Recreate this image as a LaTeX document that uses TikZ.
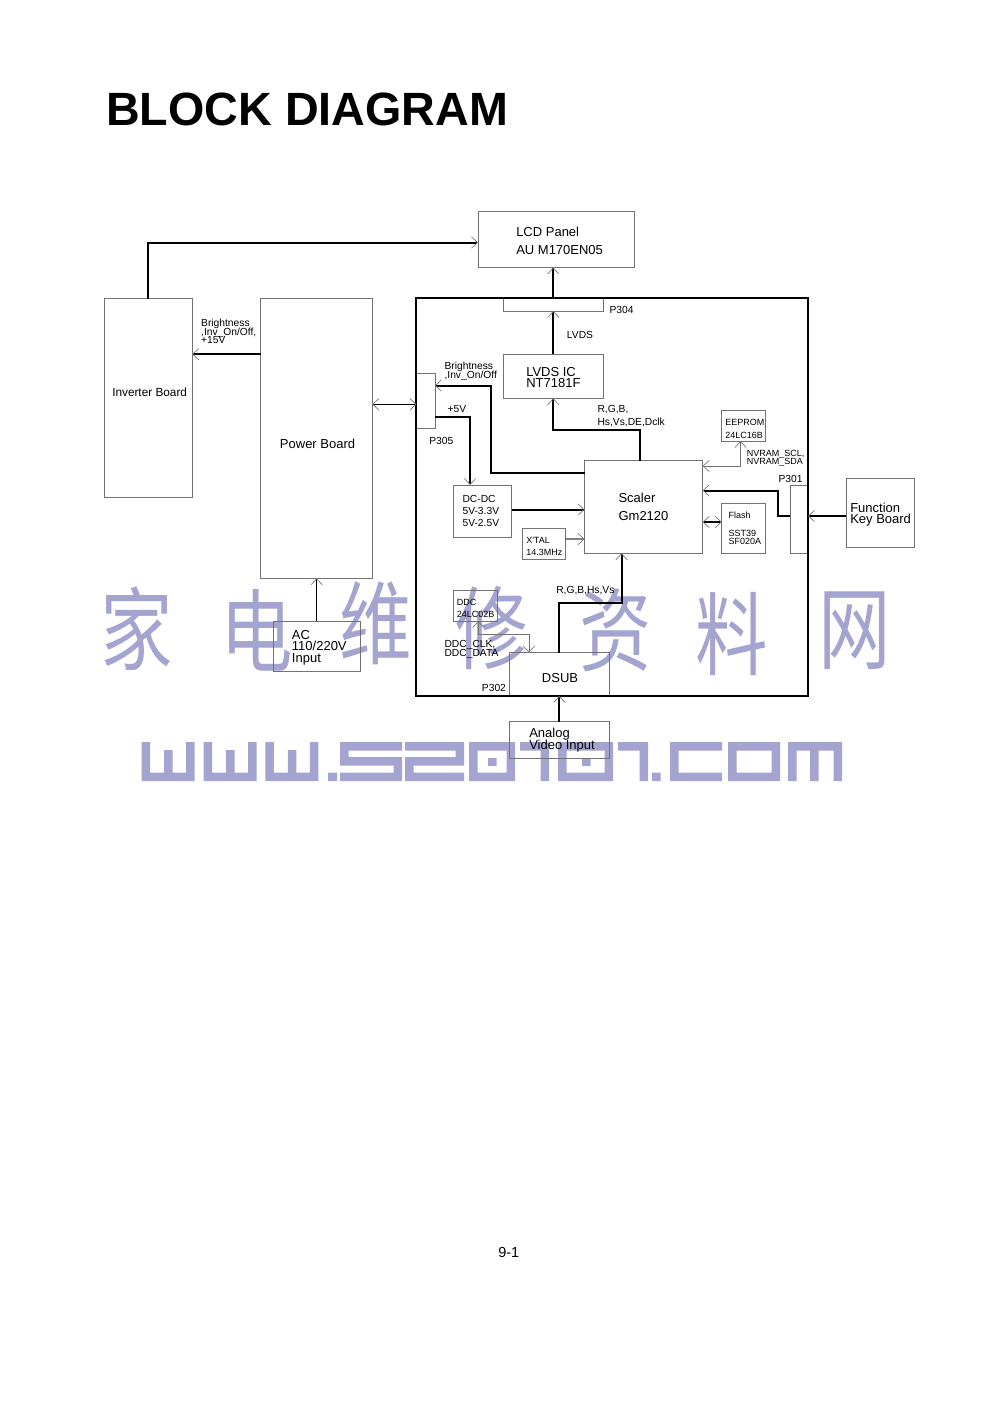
\documentclass[tikz,border=0pt]{standalone}
\usepackage{fontspec}
\setmainfont{Liberation Sans}
\newfontfamily\cjkfont{Noto Sans CJK SC}
\usetikzlibrary{arrows.meta,fit}
\definecolor{boxgray}{RGB}{115,115,115}
\definecolor{wm}{RGB}{164,164,208}
\newcommand\mybox[5]{\node[box, fit={(#2,#3) (#4,#5)}] (#1) {};}
\newcommand\cjch[1]{\scalebox{0.8}[1]{#1}}
\begin{document}
\begin{tikzpicture}[x=0.75pt,y=-0.75pt,
  box/.style={draw=boxgray, line width=0.6pt, inner sep=0pt, outer sep=0pt, rectangle},
  bus/.style={line width=1.5pt, black},
  thinline/.style={line width=0.8pt, black},
  faint/.style={line width=0.7pt, boxgray},
  Ah/.tip={Straight Barb[length=4.5pt,width=8.5pt,line width=0.5pt,color=boxgray]},
  big/.style={font=\fontsize{9.75pt}{11pt}\selectfont, inner sep=0pt, anchor=base west},
  mid/.style={font=\fontsize{7.7pt}{8pt}\selectfont, inner sep=0pt, anchor=base west},
  sml/.style={font=\fontsize{6.75pt}{7pt}\selectfont, inner sep=0pt, anchor=base west},
  cj/.style={text=wm, inner sep=0pt, font=\cjkfont\fontsize{68pt}{68pt}\selectfont},
]
\fill[white] (0,0) rectangle (992,1404);
\useasboundingbox (0,0) rectangle (992,1404);

% ---------- watermark ----------
\node[cj] (wm1) at (137,629) {\cjch{家}};
\node[cj] (wm2) at (257,630) {\cjch{电}};
\node[cj] (wm3) at (376,623) {\cjch{维}};
\node[cj] (wm4) at (492,628) {\cjch{修}};
\node[cj] (wm5) at (616,630) {\cjch{资}};
\node[cj] (wm6) at (732,634) {\cjch{料}};
\node[cj] (wm7) at (855,631) {\cjch{网}};
\foreach \a in {141.7,203.5,265.3}{
  \fill[wm] (\a,742) rectangle ({\a+8.5},781)
            ({\a+44.5},742) rectangle ({\a+53},781)
            ({\a+22.5},750) rectangle ({\a+31},781)
            (\a,772.5) rectangle ({\a+53},781);}
\fill[wm] (328,772.5) rectangle (337,781) (652,772.5) rectangle (660.5,781);
% 5
\fill[wm] (340,742) rectangle (402,750.5) (340,742) rectangle (348.5,765.5)
          (340,757) rectangle (402,765.5) (393.5,757) rectangle (402,781)
          (340,772.5) rectangle (402,781);
% 2
\fill[wm] (405,742) rectangle (464,750.5) (455.5,742) rectangle (464,765.5)
          (405,757) rectangle (464,765.5) (405,757) rectangle (413.5,781)
          (405,772.5) rectangle (464,781);
% 0, 0, o frames
\foreach \a/\b in {469/515,558/613,728/780}{
  \fill[wm] (\a,742) rectangle (\b,750.5) (\a,772.5) rectangle (\b,781)
            (\a,742) rectangle ({\a+8.5},781) ({\b-8.5},742) rectangle (\b,781);}
\fill[wm] (488,758) rectangle (496.5,766) (582,758) rectangle (590.5,766);
% 1, 1
\fill[wm] (520,742) rectangle (549,750.5) (540.5,742) rectangle (549,781);
\fill[wm] (618,742) rectangle (648,750.5) (639.5,742) rectangle (648,781);
% c
\fill[wm] (670,742) rectangle (678.5,781) (670,742) rectangle (722,750.5)
          (670,772.5) rectangle (722,781);
% m
\fill[wm] (788,742) rectangle (796.5,781) (788,742) rectangle (842,750.5)
          (833.5,742) rectangle (842,781) (810,742) rectangle (818.5,781);

% ---------- title ----------
\node[font=\bfseries\fontsize{35pt}{35pt}\selectfont, anchor=base west, inner sep=0pt] (title) at (106,125) {BLOCK DIAGRAM};
\node[font=\fontsize{10.9pt}{12pt}\selectfont, anchor=base west, inner sep=0pt] (pg) at (498,1257) {9-1};

% ---------- boxes ----------
\mybox{lcd}{478}{211.5}{634}{267.5}
\mybox{inv}{104.5}{298.5}{192.3}{497.5}
\mybox{pwr}{260.7}{298.5}{372.3}{578.3}
\mybox{ac}{273.3}{621}{360}{671.5}
\mybox{p304}{503.3}{298.5}{603.3}{311}
\mybox{lvds}{503.3}{354.3}{603.3}{398.3}
\mybox{p305}{416.5}{373.3}{435}{428.8}
\mybox{dcdc}{453.3}{485}{511.7}{537.3}
\mybox{scaler}{584.5}{460.5}{702.7}{553.3}
\mybox{xtal}{522.3}{528.3}{565.5}{559}
\mybox{eeprom}{721.7}{410}{765}{441}
\mybox{flash}{721.7}{503.3}{765}{553.3}
\mybox{p301}{790}{485.5}{808}{553.5}
\mybox{fkb}{846}{478.3}{914.3}{547.3}
\mybox{ddc}{453.3}{590.7}{497.3}{621}
\mybox{dsub}{509.5}{652.5}{609.3}{696}
\mybox{analog}{509.5}{721.5}{609.3}{758}
\node[draw=black, line width=1.5pt, inner sep=0pt, fit={(416,298.3) (808.3,695.7)}] (board) {};

% ---------- connectors ----------
\draw[bus,-{Ah}] (inv.north) |- (lcd.west |- 0,242.5);
\draw[bus,-{Ah}] (pwr.west |- 0,354.3) -- (inv.east |- 0,354.3);
\draw[thinline,{Ah}-{Ah}] (pwr.east |- 0,404.3) -- (p305.west |- 0,404.3);
\draw[thinline,-{Ah}] (ac.north) -- (ac.north |- pwr.south);
\draw[bus,-{Ah}] (p304.north) -- (p304.north |- lcd.south);
\draw[bus,-{Ah}] (lvds.north) -- (p304.south);
\draw[bus,-{Ah}] (scaler.north -| 640,0) -- (640,429.5) -| (lvds.south);
\draw[bus,-{Ah}] (scaler.west |- 0,472.5) -| (491,385.5) -- (p305.east |- 0,385.5);
\draw[bus,-{Ah}] (p305.east |- 0,416.5) -| (dcdc.north -| 470,0);
\draw[bus,-{Ah}] (dcdc.east |- 0,509.5) -- (scaler.west |- 0,509.5);
\draw[line width=0.9pt, gray,-{Ah}] (xtal.east |- 0,539) -- (scaler.west |- 0,539);
\draw[faint,{Ah}-{Ah}] (eeprom.south -| 740.5,0) |- (scaler.east |- 0,466);
\draw[bus,-{Ah}] (p301.west |- 0,516) -| (778,490.5) -- (scaler.east |- 0,490.5);
\draw[bus,-{Ah}] (fkb.west |- 0,516) -- (p301.east |- 0,516);
\draw[bus,{Ah}-{Ah}] (scaler.east |- 0,522) -- (flash.west |- 0,522);
\draw[bus,-{Ah}] (dsub.north) |- (621.5,602.5) -- (scaler.south -| 621.5,0);
\draw[faint,{Ah}-{Ah}] (ddc.south -| 478.3,0) |- (529,634.5) -- (dsub.north -| 529,0);
\draw[bus,-{Ah}] (analog.north) -- (dsub.south);

% ---------- texts ----------
\node[big] (t1) at (516,236) {LCD Panel};
\node[big] (t2) at (516,254) {AU M170EN05};
\node[font=\fontsize{8.85pt}{10pt}\selectfont, inner sep=0pt, anchor=base west] (t3) at (112,396.7) {Inverter Board};
\node[big] (t4) at (279.7,448) {Power Board};
\node[big] (t5) at (291.7,639.3) {AC};
\node[big] (t6) at (291.7,650.7) {110/220V};
\node[big] (t7) at (291.7,662.3) {Input};
\node[big] (t8) at (526,376) {LVDS IC};
\node[big] (t9) at (526,387.7) {NT7181F};
\node[big] (t10) at (618.3,502) {Scaler};
\node[big] (t11) at (618.3,520.5) {Gm2120};
\node[big] (t12) at (850,512.7) {Function};
\node[big] (t13) at (850,523.3) {Key Board};
\node[big] (t14) at (541.7,682.7) {DSUB};
\node[big] (t15) at (529,737.5) {Analog};
\node[big] (t16) at (529,749.7) {Video Input};

\node[mid] (m1) at (200.9,326.7) {Brightness};
\node[mid] (m2) at (200.9,335) {,Inv\_On/Off,};
\node[mid] (m3) at (200.9,343.3) {+15V};
\node[mid] (m4) at (609.3,313) {P304};
\node[mid] (m5) at (566.7,338.3) {LVDS};
\node[mid] (m6) at (444.3,369.5) {Brightness};
\node[mid] (m7) at (444.3,378) {,Inv\_On/Off};
\node[mid] (m8) at (447.3,412.7) {+5V};
\node[mid] (m9) at (429,444.5) {P305};
\node[mid] (m10) at (597.3,412.7) {R,G,B,};
\node[mid] (m11) at (597.3,425.3) {Hs,Vs,DE,Dclk};
\node[mid] (m12) at (778.3,482.7) {P301};
\node[mid] (m13) at (556,593.3) {R,G,B,Hs,Vs};
\node[mid] (m14) at (444.3,647.7) {DDC\_CLK,};
\node[mid] (m15) at (444.3,656.7) {DDC\_DATA};
\node[mid] (m16) at (481.7,691.7) {P302};
\node[mid] (m17) at (462.3,502.7) {DC-DC};
\node[mid] (m18) at (462.3,514) {5V-3.3V};
\node[mid] (m19) at (462.3,526.3) {5V-2.5V};

\node[sml] (s1) at (725,425) {EEPROM};
\node[sml] (s2) at (725,438.3) {24LC16B};
\node[sml] (s3) at (746.7,456.7) {NVRAM\_SCL,};
\node[sml] (s4) at (746.7,464.5) {NVRAM\_SDA};
\node[sml] (s5) at (728.3,518.3) {Flash};
\node[sml] (s6) at (728.3,536.7) {SST39};
\node[sml] (s7) at (728.3,544.2) {SF020A};
\node[sml] (s8) at (526,543.3) {X\textquotesingle TAL};
\node[sml] (s9) at (526,555.5) {14.3MHz};
\node[sml] (s10) at (456.7,605.7) {DDC};
\node[sml] (s11) at (456.7,617.3) {24LC02B};
\end{tikzpicture}
\end{document}
